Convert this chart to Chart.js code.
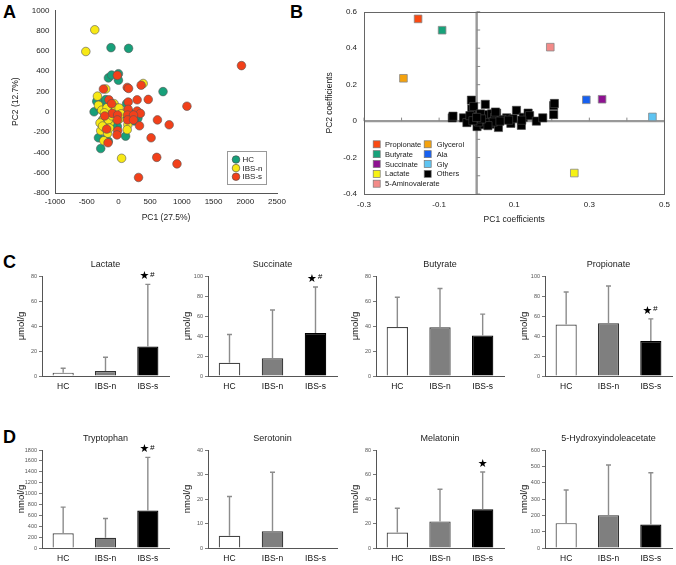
<!DOCTYPE html>
<html>
<head>
<meta charset="utf-8">
<script src="https://cdn.jsdelivr.net/npm/chart.js@4.4.0/dist/chart.umd.min.js"></script>
<style>
  body { margin: 0; background: #fff; width: 676px; height: 565px; position: relative; overflow: hidden; font-family: "Liberation Sans", Arial, sans-serif; }
  canvas { position: absolute; }
  .panel { position: absolute; font-weight: bold; font-size: 18px; line-height: 18px; color: #000; }
</style>
</head>
<body>
<div class="panel" style="left:3px;top:3px">A</div>
<div class="panel" style="left:290px;top:3px">B</div>
<div class="panel" style="left:3px;top:253px">C</div>
<div class="panel" style="left:3px;top:428px">D</div>
<script>
Chart.defaults.font.family = '"Liberation Sans", Arial, sans-serif';
Chart.defaults.color = '#222';

const GROUPS = ['HC', 'IBS-n', 'IBS-s'];

// ---- panel A: PCA scores ----
const hcX = [-117, 160, -158, -107, 0, 0, 703, -342, -384, -237, -315, -279, -220, 113, -17, 128, 306, -12, -200, -250, -180, -130, -60, 60, 270, 250, -300, -160, -90, 180];
const hcY = [632, 625, 334, 362, 375, 311, 199, 103, 0, 96, -256, -362, -270, -240, -144, 80, -64, -24, 120, -80, -20, 40, 10, -20, -48, -90, 40, -290, -130, -10];
const ibsnX = [-373, -514, 50, 390, -331, -315, -263, -68, -42, 10, -210, -237, -133, -279, -200, -170, 149, 138, -230, 113, 10, -68, -200, -160, -290, -100, -180, 40, -220, -140, -250, 170];
const ibsnY = [808, 594, -458, 279, 154, 64, 16, 80, 38, 38, -57, -73, -106, -186, -170, -212, -128, -176, -285, -10, -74, -58, 225, -80, -110, -40, 40, -20, -10, -160, -140, -60];
const ibssX = [-17, -237, 139, 160, 358, 154, 295, 470, -149, -107, 154, 295, 347, -97, -12, 144, 238, -216, -17, 144, 238, -185, -12, -22, 332, 615, 800, 515, 604, 317, -164, 1080, 923, 1940];
const ibssY = [359, 224, 240, 230, 262, 96, 118, 122, 118, 80, 24, 8, -16, -16, -32, -32, -32, -41, -80, -80, -80, -170, -186, -228, -138, -80, -128, -256, -449, -647, -305, 55, -513, 455];
const aXTicks = [-1000, -500, 0, 500, 1000, 1500, 2000, 2500];
const aYTicks = [-800, -600, -400, -200, 0, 200, 400, 600, 800, 1000];

// ---- panel B: PC coefficients ----
const bNames = ['Propionate', 'Butyrate', 'Succinate', 'Lactate', '5-Aminovalerate', 'Glycerol', 'Ala', 'Gly'];
const bX = [-0.156, -0.092, 0.334, 0.260, 0.196, -0.195, 0.292, 0.468];
const bY = [0.561, 0.499, 0.120, -0.285, 0.406, 0.235, 0.117, 0.023];
const othersX = [-0.065, -0.063, -0.014, -0.013, -0.008, 0.023, -0.035, -0.026, 0.001, 0.020, 0.036, 0.058, 0.053, 0.080, 0.091, 0.097, 0.106, 0.119, 0.124, 0.137, 0.141, 0.159, 0.176, 0.205, 0.205, 0.207, 0.014, 0.025, 0.031, 0.040, 0.048, 0.067, -0.005, 0.005, 0.010, -0.018, 0.044, 0.030, 0.062, 0.120, 0.013, -0.010, 0.085, 0.050, 0.000];
const othersY = [0.018, 0.027, 0.115, 0.066, 0.080, 0.092, 0.018, -0.008, -0.030, -0.020, -0.017, -0.035, 0.044, 0.018, -0.012, 0.013, 0.059, -0.023, 0.021, 0.044, 0.030, 0.000, 0.018, 0.036, 0.085, 0.097, 0.027, 0.010, 0.036, 0.040, 0.020, 0.009, 0.010, -0.005, 0.040, 0.030, -0.005, -0.025, 0.000, 0.005, 0.012, 0.002, 0.005, 0.050, 0.020];
const bXTicks = [-0.3, -0.1, 0.1, 0.3, 0.5];
const bYTicks = [-0.4, -0.2, 0, 0.2, 0.4, 0.6];

// ---- panels C/D: means and upper SD ----
const lactateMean = [2.7, 4.0, 23.6],      lactateSD = [3.5, 11.0, 49.7];
const succinateMean = [13.2, 17.8, 43.0],  succinateSD = [28.3, 48.2, 46.0];
const butyrateMean = [39.2, 39.0, 32.5],   butyrateSD = [23.8, 31.0, 17.0];
const propionateMean = [51.5, 52.8, 35.0], propionateSD = [32.5, 37.2, 22.1];
const tryptophanMean = [270, 189, 689],    tryptophanSD = [480, 354, 976];
const serotoninMean = [5.0, 6.8, 0],       serotoninSD = [16.0, 24.1, 0];
const melatoninMean = [12.7, 21.7, 31.7],  melatoninSD = [19.8, 26.3, 30.3];
const hiaaMean = [152, 201, 144],          hiaaSD = [203, 307, 317];

const groupColors = { 'HC': '#17a07a', 'IBS-n': '#f7e815', 'IBS-s': '#f2401a' };
const bColors = {
  'Propionate': '#fa4a12', 'Butyrate': '#17a27a', 'Succinate': '#8e1291', 'Lactate': '#f6f214',
  '5-Aminovalerate': '#f38a88', 'Glycerol': '#f4a20e', 'Ala': '#1760f0', 'Gly': '#5ec4f2', 'Others': '#000'
};
const barFill = ['#ffffff', '#7f7f7f', '#000000'];
const barEdge = ['#444444', '#333333', '#000000'];

function makeCanvas(left, top, w, h) {
  const c = document.createElement('canvas');
  c.width = w; c.height = h;
  c.style.left = left + 'px'; c.style.top = top + 'px';
  c.style.width = w + 'px'; c.style.height = h + 'px';
  document.body.appendChild(c);
  return c;
}
const pts = (xs, ys) => xs.map((x, i) => ({ x: x, y: ys[i] }));
const fixTicks = arr => s => { s.ticks = arr.map(v => ({ value: v })); };

// ---------- Panel A ----------
const legendA = {
  id: 'legendA',
  afterDraw(chart) {
    const ctx = chart.ctx;
    ctx.save();
    ctx.fillStyle = '#fff'; ctx.strokeStyle = '#999'; ctx.lineWidth = 1;
    ctx.fillRect(227.5, 151.5, 39, 33); ctx.strokeRect(227.5, 151.5, 39, 33);
    GROUPS.forEach((g, i) => {
      const y = 159.5 + i * 8.6;
      ctx.beginPath(); ctx.arc(236, y, 3.8, 0, 2 * Math.PI);
      ctx.fillStyle = groupColors[g]; ctx.fill();
      ctx.strokeStyle = '#444'; ctx.lineWidth = 0.6; ctx.stroke();
      ctx.fillStyle = '#222'; ctx.font = '8px "Liberation Sans", Arial';
      ctx.textBaseline = 'middle'; ctx.textAlign = 'left';
      ctx.fillText(g, 242.5, y + 0.5);
    });
    ctx.restore();
  }
};

new Chart(makeCanvas(0, 0, 290, 230), {
  type: 'scatter',
  data: {
    datasets: [
      { label: 'IBS-s', data: pts(ibssX, ibssY), backgroundColor: groupColors['IBS-s'] },
      { label: 'IBS-n', data: pts(ibsnX, ibsnY), backgroundColor: groupColors['IBS-n'] },
      { label: 'HC', data: pts(hcX, hcY), backgroundColor: groupColors['HC'] }
    ]
  },
  options: {
    responsive: false, animation: false, devicePixelRatio: 1,
    layout: { padding: { top: 6, right: 13, left: 0, bottom: 0 } },
    elements: { point: { radius: 4.3, borderColor: '#555', borderWidth: 0.6 } },
    plugins: { legend: { display: false }, tooltip: { enabled: false } },
    scales: {
      x: {
        type: 'linear', min: -1000, max: 2500, afterBuildTicks: fixTicks(aXTicks),
        grid: { display: false, drawTicks: false }, border: { color: '#555' },
        ticks: { font: { size: 8 }, color: '#222', padding: 4, callback: v => String(v) },
        title: { display: true, text: 'PC1 (27.5%)', font: { size: 8.5 }, color: '#222', padding: { top: 0, bottom: 6.9 } },
        afterFit: s => { s.height = 37; }
      },
      y: {
        type: 'linear', min: -800, max: 1000, afterBuildTicks: fixTicks(aYTicks),
        grid: { display: false, drawTicks: false }, border: { color: '#555' },
        ticks: { font: { size: 8 }, color: '#222', padding: 5.5, callback: v => String(v) },
        title: { display: true, text: 'PC2 (12.7%)', font: { size: 8.5 }, color: '#222', padding: { top: 10.9, bottom: 0 } },
        afterFit: s => { s.width = 55; }
      }
    }
  },
  plugins: [legendA]
});

// ---------- Panel B ----------
const frameB = {
  id: 'frameB',
  beforeDatasetsDraw(chart) {
    const { ctx, chartArea: a, scales: { x, y } } = chart;
    const x0 = x.getPixelForValue(0), y0 = y.getPixelForValue(0);
    ctx.save();
    ctx.strokeStyle = '#999'; ctx.lineWidth = 2.4;
    ctx.beginPath();
    ctx.moveTo(x0, a.top); ctx.lineTo(x0, a.bottom);
    ctx.moveTo(a.left, y0); ctx.lineTo(a.right, y0);
    ctx.stroke();
    ctx.lineWidth = 1; ctx.strokeStyle = '#888';
    ctx.beginPath();
    for (let k = -3; k <= 5; k++) {
      if (k === 0) continue;
      const px = x.getPixelForValue(k / 10);
      ctx.moveTo(px, y0); ctx.lineTo(px, y0 - 3.5);
    }
    for (let k = -4; k <= 6; k++) {
      if (k === 0) continue;
      const py = y.getPixelForValue(k / 10);
      ctx.moveTo(x0, py); ctx.lineTo(x0 + 3.5, py);
    }
    ctx.stroke();
    ctx.strokeStyle = '#666'; ctx.lineWidth = 1;
    ctx.strokeRect(Math.round(a.left) + 0.5, Math.round(a.top) + 0.5, Math.round(a.right - a.left), Math.round(a.bottom - a.top));
    ctx.restore();
  },
  afterDraw(chart) {
    const ctx = chart.ctx;
    const entries = bNames.concat(['Others']);
    ctx.save();
    ctx.font = '7.5px "Liberation Sans", Arial';
    ctx.textBaseline = 'middle'; ctx.textAlign = 'left';
    entries.forEach((n, i) => {
      const col = i < 5 ? 0 : 1, row = i < 5 ? i : i - 5;
      const sx = col ? 127.7 : 76.7, tx = col ? 136.7 : 85;
      const y = 144.3 + row * 9.85;
      ctx.fillStyle = bColors[n]; ctx.fillRect(sx - 3.5, y - 3.5, 7, 7);
      ctx.strokeStyle = '#777'; ctx.lineWidth = 0.7; ctx.strokeRect(sx - 3.5, y - 3.5, 7, 7);
      ctx.fillStyle = '#222'; ctx.fillText(n, tx, y + 0.5);
    });
    ctx.restore();
  }
};

new Chart(makeCanvas(300, 0, 376, 230), {
  type: 'scatter',
  data: {
    datasets: bNames.map((n, i) => ({
      label: n, data: [{ x: bX[i], y: bY[i] }], backgroundColor: bColors[n],
      borderColor: '#888', borderWidth: 0.8, pointStyle: 'rect', pointRadius: 5.4
    })).concat([{
      label: 'Others', data: pts(othersX, othersY), backgroundColor: '#000',
      borderColor: '#444', borderWidth: 0.6, pointStyle: 'rect', pointRadius: 5.8
    }])
  },
  options: {
    responsive: false, animation: false, devicePixelRatio: 1,
    layout: { padding: { top: 5, right: 8, left: 0, bottom: 0 } },
    plugins: { legend: { display: false }, tooltip: { enabled: false } },
    scales: {
      x: {
        type: 'linear', min: -0.3, max: 0.5, afterBuildTicks: fixTicks(bXTicks),
        grid: { display: false, drawTicks: false }, border: { display: false },
        ticks: { font: { size: 8 }, color: '#222', padding: 6, callback: v => String(v) },
        title: { display: true, text: 'PC1 coefficients', font: { size: 8.5 }, color: '#222', padding: { top: 0, bottom: 5 } },
        afterFit: s => { s.height = 36; }
      },
      y: {
        type: 'linear', min: -0.4, max: 0.6, afterBuildTicks: fixTicks(bYTicks),
        grid: { display: false, drawTicks: false }, border: { display: false },
        ticks: { font: { size: 8 }, color: '#222', padding: 7, callback: v => String(v) },
        title: { display: true, text: 'PC2 coefficients', font: { size: 8.5 }, color: '#222', padding: { top: 25, bottom: 0 } },
        afterFit: s => { s.width = 64; }
      }
    }
  },
  plugins: [frameB]
});

// ---------- Panels C and D ----------
const barExtras = {
  id: 'barExtras',
  afterDatasetsDraw(chart, args, o) {
    const { ctx, chartArea: a, scales: { y } } = chart;
    const meta = chart.getDatasetMeta(0);
    ctx.save();
    ctx.strokeStyle = '#8c8c8c'; ctx.lineWidth = 1.4;
    o.sd.forEach((sd, i) => {
      if (!sd) return;
      const bx = meta.data[i].x;
      const y0 = y.getPixelForValue(o.mean[i]);
      const y1 = y.getPixelForValue(o.mean[i] + sd);
      ctx.beginPath();
      ctx.moveTo(bx, y0); ctx.lineTo(bx, y1);
      ctx.moveTo(bx - 2.5, y1); ctx.lineTo(bx + 2.5, y1);
      ctx.stroke();
    });
    ctx.fillStyle = '#222'; ctx.textAlign = 'center'; ctx.textBaseline = 'middle';
    ctx.font = '9px "Liberation Sans", Arial';
    ctx.fillText(o.title, (a.left + a.right) / 2, a.top - 11);
    o.marks.forEach((m, i) => {
      if (!m) return;
      const bx = meta.data[i].x;
      const ty = y.getPixelForValue(o.mean[i] + o.sd[i]) - 8;
      ctx.fillStyle = '#000';
      ctx.font = 'bold 11px "DejaVu Sans"';
      if (m.indexOf('#') >= 0) {
        ctx.fillText('★', bx - 3.5, ty);
        ctx.font = 'italic 8px "Liberation Sans", Arial';
        ctx.fillText('#', bx + 4.5, ty - 2);
      } else {
        ctx.fillText('★', bx, ty);
      }
    });
    ctx.restore();
  }
};

const barPanels = [
  { title: 'Lactate', unit: 'μmol/g', mean: lactateMean, sd: lactateSD, max: 80, step: 20, marks: ['', '', '★#'], col: 0, row: 0 },
  { title: 'Succinate', unit: 'μmol/g', mean: succinateMean, sd: succinateSD, max: 100, step: 20, marks: ['', '', '★#'], col: 1, row: 0 },
  { title: 'Butyrate', unit: 'μmol/g', mean: butyrateMean, sd: butyrateSD, max: 80, step: 20, marks: ['', '', ''], col: 2, row: 0 },
  { title: 'Propionate', unit: 'μmol/g', mean: propionateMean, sd: propionateSD, max: 100, step: 20, marks: ['', '', '★#'], col: 3, row: 0 },
  { title: 'Tryptophan', unit: 'nmol/g', mean: tryptophanMean, sd: tryptophanSD, max: 1800, step: 200, marks: ['', '', '★#'], col: 0, row: 1 },
  { title: 'Serotonin', unit: 'nmol/g', mean: serotoninMean, sd: serotoninSD, max: 40, step: 10, marks: ['', '', ''], col: 1, row: 1 },
  { title: 'Melatonin', unit: 'nmol/g', mean: melatoninMean, sd: melatoninSD, max: 80, step: 20, marks: ['', '', '★'], col: 2, row: 1 },
  { title: '5-Hydroxyindoleacetate', unit: 'nmol/g', mean: hiaaMean, sd: hiaaSD, max: 600, step: 100, marks: ['', '', ''], col: 3, row: 1 }
];

const colSpan = [[41.5, 169], [208, 337], [376, 504], [544.5, 672]];
const rowSpan = [[276, 376], [450, 548.3]];

barPanels.forEach(p => {
  const [xl, xr] = colSpan[p.col];
  const [yt, yb] = rowSpan[p.row];
  const left = Math.round(xl - 36), top = Math.round(yt - 20);
  const w = Math.round(xr + 2 - left), h = Math.round(yb + 22 - top);
  new Chart(makeCanvas(left, top, w, h), {
    type: 'bar',
    data: {
      labels: GROUPS,
      datasets: [{
        data: p.mean, backgroundColor: barFill, borderColor: barEdge, borderWidth: 1.2,
        barPercentage: 0.5, categoryPercentage: 1
      }]
    },
    options: {
      responsive: false, animation: false, devicePixelRatio: 1,
      layout: { padding: { top: 20, right: 2, left: 0, bottom: 0 } },
      plugins: {
        legend: { display: false }, tooltip: { enabled: false },
        barExtras: { title: p.title, mean: p.mean, sd: p.sd, marks: p.marks }
      },
      scales: {
        x: {
          grid: { display: false, drawTicks: false }, border: { color: '#555' },
          ticks: { font: { size: 8.5 }, color: '#111', padding: 6 },
          afterFit: s => { s.height = 22; }
        },
        y: {
          min: 0, max: p.max,
          grid: { display: true, drawOnChartArea: false, drawTicks: true, tickLength: 3, color: '#777' },
          border: { color: '#555' },
          ticks: { stepSize: p.step, font: { size: 5.5 }, color: '#555', padding: 2, callback: v => String(v) },
          title: { display: true, text: p.unit, font: { size: 9.5 }, color: '#111', padding: { top: 9.3, bottom: 0 } },
          afterFit: s => { s.width = 36; }
        }
      }
    },
    plugins: [barExtras]
  });
});
</script>
</body>
</html>
